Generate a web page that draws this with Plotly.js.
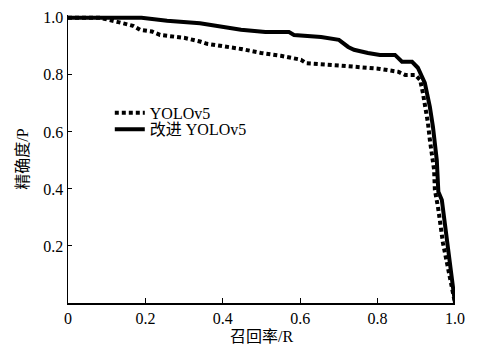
<!DOCTYPE html>
<html>
<head>
<meta charset="utf-8">
<script src="https://cdn.plot.ly/plotly-3.0.1.min.js"></script>
<style>html,body{margin:0;padding:0;background:#fff;}#chart{width:482px;height:345px;}</style>
</head>
<body>
<div id="chart"></div>
<script>
// YOLOv5 (dotted)
const recallBase = [0, 0.083, 0.13, 0.168, 0.186, 0.217, 0.238, 0.30, 0.341, 0.359, 0.427, 0.447, 0.499, 0.55, 0.602, 0.615, 0.70, 0.765, 0.806, 0.853, 0.871, 0.897, 0.91, 0.917, 0.922, 0.93, 0.935, 0.941, 0.946, 0.948, 0.956, 0.969, 0.982, 1.0];
const precisionBase = [1.0, 1.0, 0.985, 0.972, 0.958, 0.952, 0.94, 0.93, 0.917, 0.909, 0.895, 0.891, 0.877, 0.867, 0.853, 0.841, 0.833, 0.825, 0.821, 0.811, 0.8, 0.8, 0.782, 0.737, 0.702, 0.632, 0.572, 0.512, 0.467, 0.396, 0.337, 0.21, 0.116, 0.0];
// 改进 YOLOv5 (solid)
const recallImp = [0, 0.19, 0.256, 0.341, 0.447, 0.51, 0.571, 0.584, 0.654, 0.70, 0.724, 0.739, 0.775, 0.806, 0.845, 0.863, 0.889, 0.904, 0.922, 0.935, 0.943, 0.953, 0.957, 0.966, 1.0];
const precisionImp = [1.0, 1.0, 0.99, 0.981, 0.958, 0.95, 0.95, 0.94, 0.933, 0.923, 0.898, 0.888, 0.877, 0.870, 0.870, 0.846, 0.846, 0.825, 0.772, 0.688, 0.618, 0.50, 0.39, 0.361, 0.0];
const seriesNames = ['YOLOv5', '改进 YOLOv5'];
const xTickVals = [0, 0.2, 0.4, 0.6, 0.8, 1.0];
const xTickText = ['0', '0.2', '0.4', '0.6', '0.8', '1.0'];
const yTickVals = [0.2, 0.4, 0.6, 0.8, 1.0];
const yTickText = ['0.2', '0.4', '0.6', '0.8', '1.0'];

const FONT = 'Liberation Serif, Noto Sans CJK SC';

const traces = [
  {x: recallBase, y: precisionBase, name: seriesNames[0], type: 'scatter', mode: 'lines',
   line: {color: '#000', width: 4, dash: '4px,3px'}, legend: 'legend'},
  {x: recallImp, y: precisionImp, name: seriesNames[1], type: 'scatter', mode: 'lines',
   line: {color: '#000', width: 4}, legend: 'legend2'}
];

const layout = {
  width: 482, height: 345,
  margin: {l: 68, r: 27, t: 15, b: 42, pad: 0},
  paper_bgcolor: '#fff', plot_bgcolor: '#fff',
  font: {family: FONT, size: 16, color: '#000'},
  showlegend: true,
  xaxis: {
    range: [0, 1.0], showgrid: false, zeroline: false,
    showline: true, linecolor: '#000', linewidth: 1.5,
    ticks: 'inside', ticklen: 5, tickwidth: 1, tickcolor: '#000',
    tickvals: xTickVals, ticktext: xTickText,
    tickfont: {family: FONT, size: 16, color: '#000'},
    title: {text: '召回率/R', font: {family: FONT, size: 16, color: '#000'}, standoff: 12},
    automargin: false
  },
  yaxis: {
    range: [0, 1.01], showgrid: false, zeroline: false,
    showline: true, linecolor: '#000', linewidth: 1.5,
    ticks: 'inside', ticklen: 4, tickwidth: 1, tickcolor: '#000',
    tickvals: yTickVals, ticktext: yTickText,
    tickfont: {family: FONT, size: 16, color: '#000'},
    title: {text: '精确度/P', font: {family: FONT, size: 16, color: '#000'}, standoff: 10},
    automargin: false
  },
  legend: {x: 0.108, y: 0.66, xanchor: 'left', yanchor: 'middle', bgcolor: 'rgba(0,0,0,0)',
           font: {family: FONT, size: 16, color: '#000'}, borderwidth: 0},
  legend2: {x: 0.108, y: 0.603, xanchor: 'left', yanchor: 'middle', bgcolor: 'rgba(0,0,0,0)',
           font: {family: FONT, size: 16, color: '#000'}, borderwidth: 0}
};

Plotly.newPlot('chart', traces, layout, {displayModeBar: false, staticPlot: true});
</script>
</body>
</html>
